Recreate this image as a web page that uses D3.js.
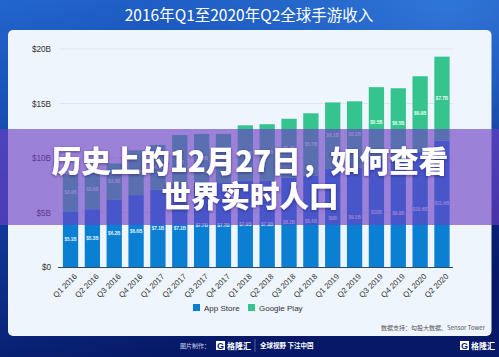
<!DOCTYPE html>
<html><head><meta charset="utf-8">
<script src="https://cdn.jsdelivr.net/npm/d3@7"></script>
<style>
html,body{margin:0;padding:0;background:#0a237e;}
svg{display:block;font-family:"Liberation Sans","Noto Sans CJK SC",sans-serif;}
</style></head>
<body><svg id="c" width="499" height="357"></svg>
<script>
const quarters = ["Q1 2016","Q2 2016","Q3 2016","Q4 2016","Q1 2017","Q2 2017","Q3 2017","Q4 2017","Q1 2018","Q2 2018","Q3 2018","Q4 2018","Q1 2019","Q2 2019","Q3 2019","Q4 2019","Q1 2020","Q2 2020"];
const appStore   = [5.1,5.3,6.2,6.6,7.1,7.1,7.7,7.7,7.9,7.9,8.2,8.4,9.0,9.1,10.0,9.9,10.6,11.6];
const googlePlay = [3.4,3.6,3.3,4.1,4.1,5.0,4.5,4.5,5.1,5.2,5.4,5.7,6.1,6.1,6.5,6.5,6.9,7.7];
const yTickValues = [0,5,10,15,20];
const yTickLabels = ["$0","$5B","$10B","$15B","$20B"];
const seriesNames = ["App Store","Google Play"];
const titleText = "2016年Q1至2020年Q2全球手游收入";
const overlayLines = ["历史上的12月27日，如何查看","世界实时人口"];
const sourceText = "数据支持：勾股大数据、Sensor Tower";

const colors = {app:"#0b80d2", gp:"#35c48e"};
const svg = d3.select("#c");
const defs = svg.append("defs");
const bg = defs.append("linearGradient").attr("id","bg").attr("x1","0").attr("y1","0").attr("x2","0.35").attr("y2","1");
bg.append("stop").attr("offset","0").attr("stop-color","#2266cc");
bg.append("stop").attr("offset","0.45").attr("stop-color","#1243a8");
bg.append("stop").attr("offset","1").attr("stop-color","#061866");
const bg2 = defs.append("radialGradient").attr("id","bg2").attr("cx","0.9").attr("cy","0").attr("r","0.6");
bg2.append("stop").attr("offset","0").attr("stop-color","#3a86e6").attr("stop-opacity",0.7);
bg2.append("stop").attr("offset","1").attr("stop-color","#3a86e6").attr("stop-opacity",0);
const sh = defs.append("filter").attr("id","sh").attr("x","-10%").attr("y","-30%").attr("width","120%").attr("height","160%");
sh.append("feDropShadow").attr("dx",0).attr("dy",1).attr("stdDeviation",1.5).attr("flood-color","#201050").attr("flood-opacity",0.55);

svg.append("rect").attr("width",499).attr("height",357).attr("fill","url(#bg)");
svg.append("rect").attr("width",499).attr("height",357).attr("fill","url(#bg2)");

// title
svg.append("text").attr("x",249).attr("y",21).attr("text-anchor","middle")
  .attr("fill","#ffffff").style("font-family","'Noto Sans CJK SC',sans-serif").attr("font-size",15.5).text(titleText);

// panel
svg.append("rect").attr("x",8).attr("y",30).attr("width",483.5).attr("height",306).attr("rx",5)
  .attr("fill","#eef5fc");

const x = d3.scaleBand().domain(quarters).range([59.6,452.9]).paddingInner(0.3).paddingOuter(0.15);
const y = d3.scaleLinear().domain([0,20]).range([267,49]);

// grid
const g = svg.append("g");
g.selectAll("line.grid").data(yTickValues.filter(v=>v>0)).join("line")
  .attr("x1",60).attr("x2",453).attr("y1",d=>y(d)).attr("y2",d=>y(d))
  .attr("stroke","#d9e1ea").attr("stroke-width",0.8);

// y axis labels
const yAxis = d3.axisLeft(y).tickValues(yTickValues).tickSize(0).tickPadding(0)
  .tickFormat((d,i)=>yTickLabels[i]);
const ya = svg.append("g").attr("transform","translate(51,0)").call(yAxis);
ya.select(".domain").remove();
ya.selectAll("text").attr("fill","#333").attr("font-size",8.2).attr("dy","0.32em");

// bars
const bars = svg.append("g");
bars.selectAll("rect.app").data(quarters).join("rect")
  .attr("x",d=>x(d)).attr("width",x.bandwidth())
  .attr("y",(d,i)=>y(appStore[i])).attr("height",(d,i)=>y(0)-y(appStore[i]))
  .attr("fill",colors.app);
bars.selectAll("rect.gp").data(quarters).join("rect")
  .attr("x",d=>x(d)).attr("width",x.bandwidth())
  .attr("y",(d,i)=>y(appStore[i]+googlePlay[i])).attr("height",(d,i)=>y(appStore[i])-y(appStore[i]+googlePlay[i]))
  .attr("fill",colors.gp);

const fmt = v => "$" + (Number.isInteger(v) ? v : v.toFixed(1)) + "B";
bars.selectAll("text.al").data(quarters).join("text")
  .attr("x",d=>x(d)+x.bandwidth()/2).attr("y",(d,i)=>(y(0)+y(appStore[i]))/2)
  .attr("dy","0.35em").attr("text-anchor","middle").attr("fill","#e8f2ff")
  .attr("font-size",4.6).attr("font-weight","bold").text((d,i)=>fmt(appStore[i]));
bars.selectAll("text.gl").data(quarters).join("text")
  .attr("x",d=>x(d)+x.bandwidth()/2).attr("y",(d,i)=>(y(appStore[i])+y(appStore[i]+googlePlay[i]))/2)
  .attr("dy","0.35em").attr("text-anchor","middle").attr("fill","#e8fff4")
  .attr("font-size",4.6).attr("font-weight","bold").text((d,i)=>fmt(googlePlay[i]));

// baseline
svg.append("line").attr("x1",58).attr("x2",453).attr("y1",y(0)+0.5).attr("y2",y(0)+0.5)
  .attr("stroke","#2c4a70").attr("stroke-width",1.2);

// x labels
const xAxis = d3.axisBottom(x).tickSize(0).tickPadding(0);
const xa = svg.append("g").attr("transform",`translate(0,${y(0)})`).call(xAxis);
xa.select(".domain").remove();
xa.selectAll("text").attr("fill","#333").attr("font-size",7.8).attr("dy",0).attr("y",0)
  .attr("text-anchor","end").attr("transform","translate(7,10) rotate(-45)");

// legend
const lg = svg.append("g");
const legendX = [193,248];
seriesNames.forEach((n,i)=>{
  lg.append("rect").attr("x",legendX[i]).attr("y",304).attr("width",7).attr("height",7)
    .attr("fill",i===0?colors.app:colors.gp);
  lg.append("text").attr("x",legendX[i]+11).attr("y",310.5).attr("font-size",8).attr("fill","#333").text(n);
});

// source
svg.append("text").attr("x",485).attr("y",330).attr("text-anchor","end").attr("font-size",6)
  .attr("fill","#555").style("font-family","'Noto Sans CJK SC',sans-serif").text(sourceText);

// footer
const ft = svg.append("g").style("font-family","'Noto Sans CJK SC',sans-serif");
ft.append("text").attr("x",180).attr("y",348).attr("font-size",6).attr("fill","#c8d2ee").text("图片制作：");
function logo(gx,gy,s){
  const lgp = ft.append("g").attr("transform",`translate(${gx},${gy})`);
  lgp.append("rect").attr("x",0).attr("y",-8*s).attr("width",9*s).attr("height",9*s).attr("fill","#fff");
  lgp.append("text").attr("x",4.5*s).attr("y",0).attr("text-anchor","middle").attr("font-size",9*s).attr("font-weight","bold")
    .attr("fill","#0a237e").style("font-family","'Liberation Sans',sans-serif").text("G");
  lgp.append("text").attr("x",11*s).attr("y",0).attr("font-size",8*s).attr("font-weight","bold").attr("fill","#fff").text("格隆汇");
}
logo(216,349,1);
ft.append("line").attr("x1",255).attr("x2",255).attr("y1",339).attr("y2",352).attr("stroke","#6f82c0").attr("stroke-width",0.7);
ft.append("text").attr("x",260).attr("y",348).attr("font-size",6.5).attr("font-weight","bold").attr("fill","#fff").text("全球视野 下注中国");
logo(460,349,1);

// overlay
svg.append("rect").attr("x",0).attr("y",129).attr("width",499).attr("height",96)
  .attr("fill","rgb(110,62,196)").attr("fill-opacity",0.64);
const ov = svg.append("g").attr("filter","url(#sh)").style("font-family","'Noto Sans CJK SC',sans-serif");
ov.selectAll("text").data(overlayLines).join("text")
  .attr("x",250).attr("y",(d,i)=>172+i*35).attr("text-anchor","middle")
  .attr("font-size",29.5).attr("font-weight",900).attr("fill","#fff").text(d=>d);
</script></body></html>
